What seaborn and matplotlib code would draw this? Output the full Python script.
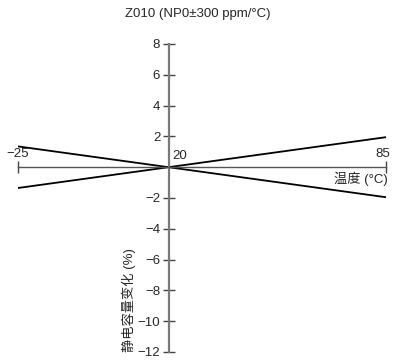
import matplotlib
matplotlib.use("Agg")
import matplotlib.pyplot as plt
import seaborn as sns
import pandas as pd

temps = [-25, 20, 85]
series_a = [1.35, 0.0, -1.95]
series_b = [-1.35, 0.0, 1.95]
yticks = [8, 6, 4, 2, -2, -4, -6, -8, -10, -12]
xticks = [-25, 85]
title = "Z010 (NP0±300 ppm/°C)"
xlabel = "温度 (°C)"
ylabel = "静电容量变化 (%)"

sns.set_style("white")
plt.rcParams['font.family'] = ['Liberation Sans', 'Noto Sans CJK SC', 'DejaVu Sans']
plt.rcParams['axes.unicode_minus'] = True

df = pd.DataFrame({
    "T": temps * 2,
    "C": series_a + series_b,
    "s": ["a"] * 3 + ["b"] * 3,
})

FS = 9.5
W, H = 395, 363
fig = plt.figure(figsize=(W / 100, H / 100), dpi=100)
ax = fig.add_axes([18 / W, 1 - 352 / H, 368 / W, 308 / H])
sns.lineplot(data=df, x="T", y="C", units="s", estimator=None, color="black",
             lw=1.3, ax=ax, legend=False)
ax.set_xlim(-25, 85)
ax.set_ylim(-12, 8)

for s in ["top", "right"]:
    ax.spines[s].set_visible(False)
ax.spines["left"].set_position(("data", 20))
ax.spines["bottom"].set_position(("data", 0))
ax.spines["left"].set_color("#7a7a7a")
ax.spines["bottom"].set_color("#555555")
ax.spines["left"].set_linewidth(1.6)
ax.spines["bottom"].set_linewidth(1.0)

ax.set_yticks(yticks)
ax.set_yticklabels([f"{v}".replace("-", "\u2212") for v in yticks])
ax.tick_params(axis="y", direction="inout", length=8, width=1.0, color="#444444",
               labelsize=FS, pad=2, left=True)
ax.set_xticks(xticks)
ax.tick_params(axis="x", direction="inout", length=8, width=1.0, color="#444444",
               labelbottom=False, bottom=True)
ax.set_xlabel("")
ax.set_ylabel("")

ax.annotate("\u221225", (xticks[0], 0), xytext=(0, 5.5),
            textcoords="offset points", ha="center", va="bottom", fontsize=FS)
ax.annotate(f"{xticks[1]}", (xticks[1], 0), xytext=(-2, 5.5),
            textcoords="offset points", ha="center", va="bottom", fontsize=FS)
ax.annotate("20", (20, 0), xytext=(3, 4), textcoords="offset points",
            ha="left", va="bottom", fontsize=FS)
ax.annotate(xlabel, (85, 0), xytext=(1, -3.5), textcoords="offset points",
            ha="right", va="top", fontsize=FS)
ax.text((129 - 18) / 368, (352 - 300) / 308, ylabel, transform=ax.transAxes,
        rotation=90, ha="center", va="center", fontsize=FS)
fig.text(0.5, 1 - 14 / H, title, ha="center", va="center", fontsize=FS)

fig.savefig("out.png", dpi=100)
